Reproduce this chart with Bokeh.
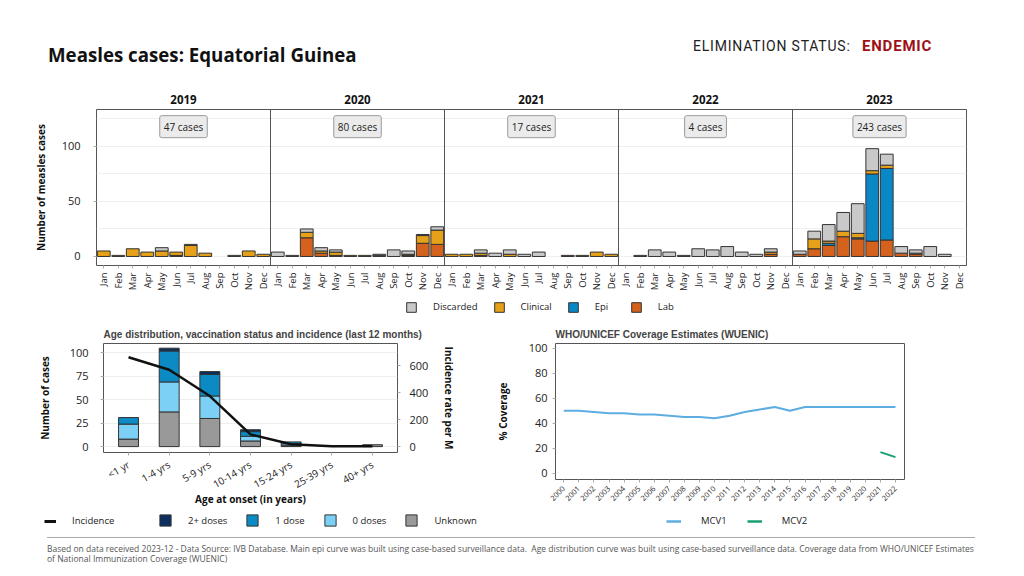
import math
from bokeh.plotting import figure
from bokeh.layouts import column, row
from bokeh.models import (ColumnDataSource, FixedTicker, LinearAxis, Range1d, FactorRange,
                          Span, Label, Legend, LegendItem, Div)
from bokeh.embed import file_html
from bokeh.resources import INLINE

FONT = "Open Sans"
TFONT = "Liberation Sans"
NAN = float("nan")

# ---------------- data ----------------
month_names = ["Jan", "Feb", "Mar", "Apr", "May", "Jun", "Jul", "Aug", "Sep", "Oct", "Nov", "Dec"]
years = ["2019", "2020", "2021", "2022", "2023"]
year_totals = ["47 cases", "80 cases", "17 cases", "4 cases", "243 cases"]

lab = [0, 0, 0, 0, 0, 1, 0, 0, 0, 0, 0, 0,
       0, 0, 17, 3, 1, 0, 0, 1, 0, 1, 12, 11,
       0, 0, 1, 0, 0, 0, 0, 0, 1, 0, 0, 0,
       0, 0, 0, 0, 0, 0, 0, 0, 0, 0, 2, 0,
       2, 7, 10, 18, 16, 14, 15, 3, 2, 0, 0, 0]
epi = [0] * 12 + [0] * 12 + [0] * 12 + [0] * 12 + \
      [0, 0, 2, 0, 1, 61, 65, 0, 0, 0, 0, 0]
clinical = [5, 1, 7, 4, 5, 3, 10, 3, 0, 1, 5, 2,
            0, 1, 5, 2, 3, 1, 1, 0, 0, 1, 7, 13,
            2, 2, 2, 0, 2, 0, 0, 0, 0, 1, 4, 2,
            0, 0, 0, 0, 0, 0, 0, 0, 0, 0, 2, 0,
            0, 9, 2, 5, 4, 3, 3, 0, 1, 0, 0, 0]
discarded = [0, 0, 0, 0, 3, 0, 1, 0, 0, 0, 0, 0,
             4, 0, 3, 3, 2, 0, 0, 1, 6, 3, 1, 3,
             0, 0, 3, 3, 4, 2, 4, 0, 0, 0, 0, 0,
             0, 1, 6, 4, 1, 7, 6, 9, 4, 2, 3, 0,
             3, 7, 15, 17, 27, 20, 10, 6, 3, 9, 2, 0]

ages = ["<1 yr", "1-4 yrs", "5-9 yrs", "10-14 yrs", "15-24 yrs", "25-39 yrs", "40+ yrs"]
unknown = [8, 37, 30, 6, 1, 0, 2]
dose0 = [16, 32, 24, 5, 2, 0, 0]
dose1 = [7, 33, 23, 5, 2, 0, 0]
dose2 = [0, 3, 3, 2, 0, 0, 0]
incidence = [661, 569, 374, 90, 17, 2, 3]

cov_years = list(range(2000, 2023))
mcv1 = [50, 50, 49, 48, 48, 47, 47, 46, 45, 45, 44, 46, 49, 51, 53, 50, 53, 53, 53, 53, 53, 53, 53]
mcv2_years = [2021, 2022]
mcv2 = [17, 13]

title_text = "Measles cases: Equatorial Guinea"
status_label = "ELIMINATION STATUS:"
status_value = "ENDEMIC"
footer_1 = ("Based on data received 2023-12 - Data Source: IVB Database. Main epi curve was built using "
            "case-based surveillance data.&nbsp; Age distribution curve was built using case-based "
            "surveillance data. Coverage data from WHO/UNICEF Estimates")
footer_2 = "of National Immunization Coverage (WUENIC)"

C_LAB, C_EPI, C_CLI, C_DIS = "#D4611C", "#0A88C6", "#E6A118", "#C9C9C9"
C_UNK, C_D0, C_D1, C_D2 = "#999999", "#7DD0F5", "#0B8AC4", "#0B2F5E"
C_MCV1, C_MCV2 = "#5DADE2", "#18A06E"


def alpha(arr):
    return [1.0 if v > 0 else 0.0 for v in arr]


def style_axis(ax, size="11px"):
    ax.axis_line_color = None
    ax.major_tick_line_color = "#aaaaaa"
    ax.major_tick_out = 3
    ax.major_tick_in = 0
    ax.minor_tick_line_color = None
    ax.major_label_text_font = FONT
    ax.major_label_text_font_size = size
    ax.major_label_text_color = "#222222"
    ax.axis_label_text_font = FONT
    ax.axis_label_text_font_style = "bold"
    ax.axis_label_text_font_size = "10px"
    ax.axis_label_text_color = "#111111"


def legend(items, **kw):
    base = dict(orientation="horizontal", padding=0, margin=0, label_standoff=16, glyph_width=12,
                glyph_height=12, label_height=12, label_text_font=FONT,
                label_text_font_size="9.5px", label_text_color="#222222",
                border_line_color=None, background_fill_alpha=0)
    base.update(kw)
    return Legend(items=items, **base)


def blank(width, height):
    f = figure(width=width, height=height, x_range=Range1d(0, 1), y_range=Range1d(0, 1),
               output_backend="svg", toolbar_location=None, x_axis_location=None,
               y_axis_location=None, min_border=0, outline_line_color=None)
    f.grid.visible = False
    return f


def swatch(f, color):
    # legend-only renderer: no visible data point
    return f.vbar(x=[NAN], top=[NAN], width=1, fill_color=color, line_color="#333333")


def stroke(f, color, w):
    return f.line(x=[NAN], y=[NAN], line_color=color, line_width=w)


# ---------------- header ----------------
hdr = Div(width=1024, height=84, margin=0, text=(
    "<div style='position:relative;width:1024px;height:84px;'>"
    "<span style=\"position:absolute;left:48px;top:42px;line-height:26px;font-family:'Open Sans';"
    "font-weight:bold;font-size:18.7px;color:#111;white-space:nowrap\">" + title_text + "</span>"
    "<span style=\"position:absolute;left:693px;top:36px;line-height:20px;font-family:Roboto;"
    "font-size:14px;letter-spacing:0.8px;color:#222;white-space:nowrap\">" + status_label + "</span>"
    "<span style=\"position:absolute;left:862px;top:36px;line-height:20px;font-family:Roboto;"
    "font-weight:bold;font-size:15px;letter-spacing:0.8px;color:#A00F15;white-space:nowrap\">"
    + status_value + "</span></div>"))

# ---------------- top epi curve ----------------
xs = [2 * i + 1 for i in range(60)]
src = ColumnDataSource(dict(x=xs, lab=lab, epi=epi, clinical=clinical, discarded=discarded,
                            a_lab=alpha(lab), a_epi=alpha(epi), a_cli=alpha(clinical),
                            a_dis=alpha(discarded)))
top = figure(width=1024, height=212, x_range=Range1d(0, 120), y_range=Range1d(-8.2, 133.6),
             output_backend="svg", toolbar_location=None,
             min_border_left=96, min_border_right=58, min_border_top=25, min_border_bottom=31)
top.outline_line_color = "#555555"
rs = top.vbar_stack(["lab", "epi", "clinical", "discarded"], x="x", width=1.76, source=src,
                    fill_color=[C_LAB, C_EPI, C_CLI, C_DIS],
                    line_color="#333333", line_width=1,
                    line_alpha=["a_lab", "a_epi", "a_cli", "a_dis"])
top.xgrid.visible = False
top.ygrid.ticker = FixedTicker(ticks=[0, 25, 50, 75, 100, 125])
top.ygrid.grid_line_color = "#efefef"
top.xaxis.ticker = FixedTicker(ticks=xs)
top.xaxis.major_label_overrides = {x: month_names[i % 12] for i, x in enumerate(xs)}
top.xaxis.major_label_orientation = math.pi / 2
top.xaxis.major_label_standoff = 4
top.yaxis.ticker = FixedTicker(ticks=[0, 50, 100])
top.yaxis.axis_label = "Number of measles cases"
top.yaxis.major_label_standoff = 13
top.yaxis.axis_label_standoff = 11
style_axis(top.xaxis[0], "9.5px")
style_axis(top.yaxis[0], "11px")

year_centers = [12 + 24 * k for k in range(5)]
yax = LinearAxis(ticker=FixedTicker(ticks=year_centers),
                 major_label_overrides={c: years[k] for k, c in enumerate(year_centers)},
                 axis_line_color=None, major_tick_line_color=None, minor_tick_line_color=None,
                 major_label_text_font=FONT, major_label_text_font_style="bold",
                 major_label_text_font_size="11.5px", major_label_standoff=0,
                 major_label_text_color="#111111")
top.add_layout(yax, "above")
for k in range(1, 5):
    top.add_layout(Span(location=24 * k, dimension="height", line_color="#555555", line_width=1))
for k, c in enumerate(year_centers):
    top.add_layout(Label(x=c, y=118, text=year_totals[k], text_align="center",
                         text_baseline="middle", text_font=FONT, text_font_size="10px",
                         text_color="#222222", background_fill_color="#ebebeb",
                         border_line_color="#999999", padding=4, border_radius=2))

# legend strip for the epi curve
tl = blank(1024, 22)
tl.add_layout(legend([LegendItem(label="Discarded", renderers=[swatch(tl, C_DIS)]),
                      LegendItem(label="Clinical", renderers=[swatch(tl, C_CLI)]),
                      LegendItem(label="Epi", renderers=[swatch(tl, C_EPI)]),
                      LegendItem(label="Lab", renderers=[swatch(tl, C_LAB)])],
                     location=(405, 5), spacing=15))

# ---------------- bottom-left age chart ----------------
asrc = ColumnDataSource(dict(age=ages, unknown=unknown, dose0=dose0, dose1=dose1, dose2=dose2,
                             inc=incidence, a_u=alpha(unknown), a_0=alpha(dose0),
                             a_1=alpha(dose1), a_2=alpha(dose2)))
bl = figure(width=488, height=190, x_range=FactorRange(factors=ages, range_padding=0.033),
            y_range=Range1d(-6.3, 110), output_backend="svg", toolbar_location=None,
            min_border_left=103, min_border_right=91, min_border_top=25, min_border_bottom=55,
            title="Age distribution, vaccination status and incidence (last 12 months)")
bl.title.text_font = TFONT
bl.title.text_font_style = "bold"
bl.title.text_font_size = "10px"
bl.title.align = "left"
bl.title.standoff = 7
bl.outline_line_color = "#555555"
bl.extra_y_ranges = {"inc": Range1d(-44, 763)}
bs = bl.vbar_stack(["unknown", "dose0", "dose1", "dose2"], x="age", width=0.49, source=asrc,
                   fill_color=[C_UNK, C_D0, C_D1, C_D2],
                   line_color="#333333", line_width=1, line_alpha=["a_u", "a_0", "a_1", "a_2"])
ln = bl.line(x="age", y="inc", source=asrc, y_range_name="inc", line_color="#111111",
             line_width=2.5)
bl.xgrid.visible = False
bl.ygrid.ticker = FixedTicker(ticks=[0, 25, 50, 75, 100])
bl.ygrid.grid_line_color = "#efefef"
bl.yaxis.ticker = FixedTicker(ticks=[0, 25, 50, 75, 100])
bl.yaxis.axis_label = "Number of cases"
bl.xaxis.axis_label = "Age at onset (in years)"
bl.xaxis.major_label_orientation = math.pi / 6
rax = LinearAxis(y_range_name="inc", axis_label="Incidence rate per M",
                 ticker=FixedTicker(ticks=[0, 200, 400, 600]))
bl.add_layout(rax, "right")
for ax in (bl.xaxis[0], bl.yaxis[0], rax):
    style_axis(ax, "11px")
bl.xaxis.major_label_text_font_size = "10px"
bl.xaxis.major_label_standoff = 8
bl.xaxis.axis_label_standoff = -8
bl.yaxis.major_label_standoff = 12
bl.yaxis.axis_label_standoff = 15
rax.major_label_standoff = 9
rax.axis_label_standoff = 11

# ---------------- bottom-right coverage ----------------
br = figure(width=536, height=190, x_range=Range1d(1999.45, 2022.6), y_range=Range1d(-4.8, 103.6),
            output_backend="svg", toolbar_location=None,
            min_border_left=67, min_border_right=120, min_border_top=25, min_border_bottom=29,
            title="WHO/UNICEF Coverage Estimates (WUENIC)")
br.title.text_font = TFONT
br.title.text_font_style = "bold"
br.title.text_font_size = "10px"
br.title.align = "left"
br.title.standoff = 7
br.outline_line_color = "#555555"
br.grid.visible = False
l1 = br.line(cov_years, mcv1, line_color=C_MCV1, line_width=2)
l2 = br.line(mcv2_years, mcv2, line_color=C_MCV2, line_width=2)
br.xaxis.ticker = FixedTicker(ticks=cov_years)
br.xaxis.major_label_orientation = math.pi / 4
br.yaxis.ticker = FixedTicker(ticks=[0, 20, 40, 60, 80, 100])
br.yaxis.axis_label = "% Coverage"
style_axis(br.xaxis[0], "7.5px")
style_axis(br.yaxis[0], "11px")
br.yaxis.axis_label_standoff = 16

# legend strip for the bottom charts
bleg = blank(1024, 24)
bleg.add_layout(legend([LegendItem(label="Incidence", renderers=[stroke(bleg, "#111111", 3)])],
                       location=(44, 5)))
bleg.add_layout(legend([LegendItem(label="2+ doses", renderers=[swatch(bleg, C_D2)]),
                        LegendItem(label="1 dose", renderers=[swatch(bleg, C_D1)]),
                        LegendItem(label="0 doses", renderers=[swatch(bleg, C_D0)]),
                        LegendItem(label="Unknown", renderers=[swatch(bleg, C_UNK)])],
                       location=(158, 5), spacing=18, glyph_width=14, glyph_height=14))
bleg.add_layout(legend([LegendItem(label="MCV1", renderers=[stroke(bleg, C_MCV1, 2.5)]),
                        LegendItem(label="MCV2", renderers=[stroke(bleg, C_MCV2, 2.5)])],
                       location=(666, 5), spacing=20, label_standoff=20, glyph_width=15))

# ---------------- footer ----------------
ftr = Div(width=1024, height=44, margin=0, text=(
    "<div style='position:relative;width:1024px;height:44px;'>"
    "<div style='position:absolute;left:47px;top:5px;width:928px;height:0px;border-top:1px solid #aaaaaa'></div>"
    "<div style=\"position:absolute;left:47px;top:12px;width:940px;line-height:10px;font-family:'Open Sans';"
    "font-size:8.5px;color:#555555\">" + footer_1 + "<br>" + footer_2 + "</div>"
    "</div>"))

layout = column(hdr, top, row(tl), row(column(bl), column(br), spacing=0), row(bleg), ftr,
                spacing=0)
open("out.html", "w").write(file_html(layout, INLINE))
